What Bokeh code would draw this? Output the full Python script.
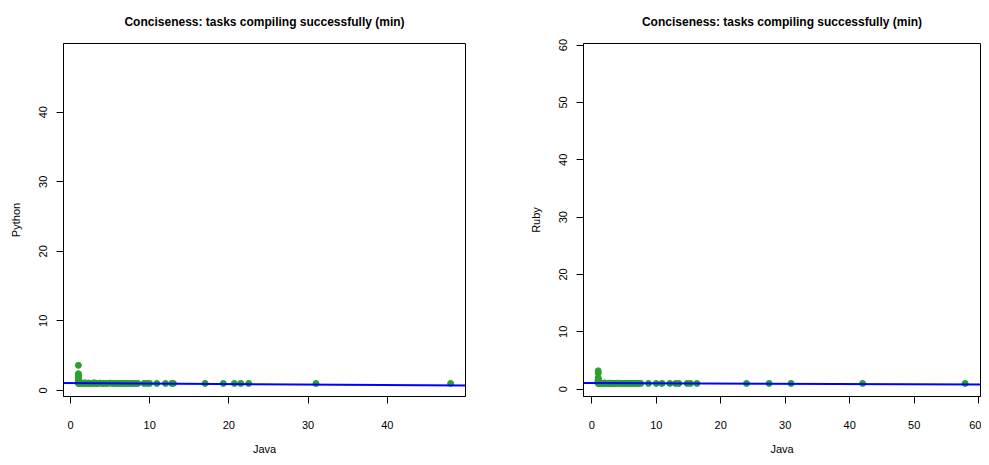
from bokeh.plotting import figure
from bokeh.layouts import row
from bokeh.models import FixedTicker, Range1d, Slope
from bokeh.embed import file_html
from bokeh.resources import INLINE

title_text = "Conciseness: tasks compiling successfully (min)"

# Left panel: Python vs Java
py_x = [1.0, 1.0, 1.0, 1.0, 1.0, 1.0, 1.0, 1.0, 1.0, 1.0, 1.0, 1.0, 1.0,
        1.2, 1.4, 1.5, 1.7, 1.8, 2.0, 2.2, 2.3, 2.5, 2.7, 2.8, 3.0, 3.2, 3.3,
        3.5, 3.7, 4.0, 4.2, 4.5, 4.7, 5.0, 5.3, 5.5, 5.8, 6.0, 6.3, 6.5, 6.8,
        7.0, 7.3, 7.5, 7.8, 8.0, 8.3, 8.5, 9.3, 9.7, 10.0, 10.9, 12.0, 12.8,
        13.0, 17.0, 19.3, 20.7, 21.5, 22.5, 31.0, 48.0]
py_y = [1.0, 1.05, 1.1, 1.2, 1.3, 1.4, 1.5, 1.6, 1.8, 2.0, 2.2, 2.4, 3.6,
        1.0, 1.05, 1.0, 1.0, 1.1, 1.0, 1.0, 1.05, 1.0, 1.0, 1.0, 1.1, 1.0, 1.0,
        1.0, 1.05, 1.0, 1.0, 1.0, 1.0, 1.05, 1.0, 1.0, 1.0, 1.0, 1.0, 1.0, 1.0,
        1.0, 1.0, 1.0, 1.0, 1.0, 1.0, 1.0, 1.0, 1.0, 1.0, 1.0, 1.0, 1.0,
        1.0, 1.0, 1.0, 1.0, 1.0, 1.0, 1.0, 1.0]
py_fit_intercept = 1.063
py_fit_slope = -0.0073
py_ticks = [0, 10, 20, 30, 40]

# Right panel: Ruby vs Java
rb_x = [1.0, 1.0, 1.0, 1.0, 1.0, 1.0, 1.0, 1.0, 1.0, 1.0, 1.0,
        1.2, 1.4, 1.5, 1.7, 1.8, 2.0, 2.2, 2.4, 2.5, 2.7, 2.9, 3.0, 3.2, 3.4,
        3.6, 3.8, 4.0, 4.3, 4.5, 4.8, 5.0, 5.3, 5.5, 5.8, 6.0, 6.3, 6.5, 6.8,
        7.0, 7.3, 7.6, 8.8, 10.0, 10.9, 12.1, 13.0, 13.5, 14.8, 15.3, 16.3,
        24.0, 27.5, 30.9, 42.0, 57.9]
rb_y = [1.0, 1.1, 1.2, 1.3, 1.4, 1.5, 1.6, 1.8, 2.0, 2.8, 3.2,
        1.0, 1.0, 1.05, 1.0, 1.0, 1.1, 1.0, 1.0, 1.0, 1.05, 1.0, 1.0, 1.0, 1.0,
        1.0, 1.0, 1.05, 1.0, 1.0, 1.0, 1.0, 1.0, 1.0, 1.0, 1.0, 1.0, 1.0, 1.0,
        1.0, 1.0, 1.0, 1.0, 1.0, 1.0, 1.0, 1.0, 1.0, 1.0, 1.0, 1.0,
        1.0, 1.0, 1.0, 1.0, 1.0]
rb_fit_intercept = 1.07
rb_fit_slope = -0.0045
rb_ticks = [0, 10, 20, 30, 40, 50, 60]

FONT = "Liberation Sans"
GREEN = "#2ca02c"


def make_panel(xs, ys, lo, hi, ticks, ylabel, intercept, slope,
               width, border_left, border_right):
    p = figure(width=width, height=457, output_backend="svg",
               toolbar_location=None, x_range=Range1d(lo, hi),
               y_range=Range1d(lo, hi), title=title_text,
               min_border_left=border_left, min_border_right=border_right,
               min_border_top=43, min_border_bottom=55)
    p.title.align = "center"
    p.title.text_font = FONT
    p.title.text_font_size = "12px"
    p.title.text_font_style = "bold"
    p.title.text_color = "black"
    p.title.standoff = 26
    p.title.vertical_align = "top"
    p.xgrid.visible = False
    p.ygrid.visible = False
    p.outline_line_color = "black"
    p.outline_line_alpha = 1.0
    p.outline_line_width = 1
    for ax in (p.xaxis[0], p.yaxis[0]):
        ax.ticker = FixedTicker(ticks=ticks)
        ax.minor_tick_line_color = None
        ax.major_tick_in = 0
        ax.major_tick_out = 7
        ax.major_tick_line_color = "black"
        ax.axis_line_color = "black"
        ax.major_label_text_font = FONT
        ax.major_label_text_font_size = "11px"
        ax.major_label_text_color = "black"
        ax.axis_label_text_font = FONT
        ax.axis_label_text_font_size = "11px"
        ax.axis_label_text_font_style = "normal"
        ax.axis_label_text_color = "black"
    p.xaxis.axis_label = "Java"
    p.xaxis.major_label_standoff = 17
    p.xaxis.axis_label_standoff = 11
    p.yaxis.axis_label = ylabel
    p.yaxis.major_label_orientation = "vertical"
    p.yaxis.major_label_standoff = 9
    p.yaxis.axis_label_standoff = 15
    p.scatter(xs, ys, size=6, color=GREEN, line_color=GREEN)
    p.add_layout(Slope(gradient=slope, y_intercept=intercept,
                       line_color="#0000ff", line_width=2))
    return p


left = make_panel(py_x, py_y, -0.88, 49.88, py_ticks, "Python",
                  py_fit_intercept, py_fit_slope, 525, 63, 60)
right = make_panel(rb_x, rb_y, -1.28, 60.28, rb_ticks, "Ruby",
                   rb_fit_intercept, rb_fit_slope, 456, 58, 1)

layout = row(left, right, spacing=0)
open("out.html", "w").write(file_html(layout, INLINE))
